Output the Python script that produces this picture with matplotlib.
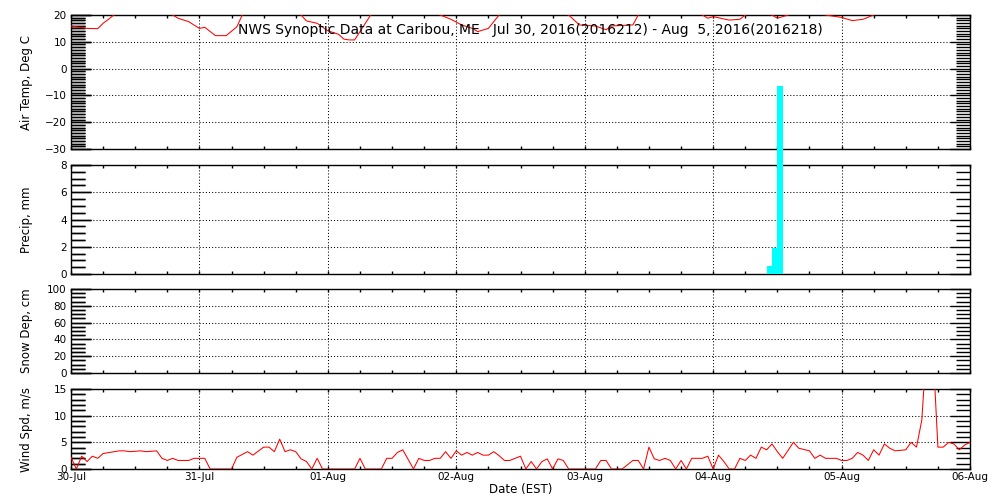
import numpy as np
import matplotlib
matplotlib.use('Agg')
import matplotlib.pyplot as plt
from matplotlib.ticker import MultipleLocator


# hours since 30-Jul 00:00 EST
temp_hr = [0, 3, 5, 6, 7, 8, 13, 19, 20, 22, 24, 25, 27, 29, 31, 32, 37, 43, 44, 46, 47, 48,
           50, 51, 52, 53, 54, 56, 61, 69, 71, 73, 75, 76, 78, 80, 85, 93, 95, 98, 100, 101,
           105, 106, 111, 118, 119, 120, 123, 125, 126, 128, 131, 132, 133, 134, 138, 141,
           144, 146, 148, 150, 156, 168]
temp_c = [15.9, 15.0, 14.9, 16.9, 18.4, 20.0, 24.0, 20.0, 18.8, 17.5, 15.0, 15.4, 12.3, 12.3,
          15.6, 20.0, 25.0, 20.0, 17.8, 16.9, 15.5, 14.1, 12.8, 11.0, 10.7, 10.7, 13.8, 20.0,
          25.0, 20.0, 18.4, 16.3, 15.0, 13.8, 15.0, 20.0, 25.0, 20.0, 16.3, 15.9, 14.5, 15.9,
          16.3, 20.0, 24.0, 20.0, 18.8, 19.4, 18.1, 18.4, 20.0, 21.0, 20.0, 18.8, 19.4, 20.0,
          23.0, 20.0, 19.1, 17.9, 18.4, 20.0, 25.0, 23.0]

precip_hr = [130, 131, 132]
precip_mm = [0.6, 1.9, 13.8]

snow_hr = []
snow_cm = []

wind_hr = [0, 1, 2, 3, 4, 5, 6, 9, 10, 11, 13, 14, 16, 17, 18, 19, 20, 22, 23, 25, 26, 30,
           31, 33, 34, 36, 37, 38, 39, 40, 41, 42, 43, 44, 45, 46, 47, 53, 54, 55, 58, 59,
           60, 61, 62, 64, 65, 66, 67, 68, 69, 70, 71, 72, 73, 74, 75, 76, 77, 78, 79, 80,
           81, 82, 84, 85, 86, 87, 88, 89, 90, 91, 92, 93, 98, 99, 100, 101, 103, 105, 106,
           107, 108, 109, 110, 111, 112, 113, 114, 115, 116, 118, 119, 120, 121, 122, 123,
           124, 125, 126, 127, 128, 129, 130, 131, 132, 133, 135, 136, 138, 139, 140, 141,
           143, 144, 145, 146, 147, 148, 149, 150, 151, 152, 153, 154, 156, 157, 158, 159,
           160, 161, 162, 163, 164, 165, 166, 167, 168]
wind_ms = [2.2, 0.0, 2.4, 1.4, 2.4, 2.0, 2.9, 3.4, 3.4, 3.25, 3.4, 3.25, 3.4, 2.0, 1.6, 2.0,
           1.6, 1.6, 2.0, 2.0, 0.0, 0.0, 2.2, 3.25, 2.6, 4.1, 4.1, 3.25, 5.6, 3.25, 3.6, 3.25,
           1.9, 1.4, 0.0, 2.0, 0.0, 0.0, 2.0, 0.0, 0.0, 2.0, 2.0, 3.1, 3.6, 0.0, 2.0, 1.6, 1.6,
           2.0, 2.0, 3.25, 2.0, 3.4, 2.6, 3.1, 2.6, 3.1, 2.6, 2.6, 3.25, 2.5, 1.6, 1.6, 2.4,
           0.0, 1.4, 0.0, 1.4, 1.9, 0.0, 1.9, 1.6, 0.0, 0.0, 1.6, 1.6, 0.0, 0.0, 1.6, 1.6, 0.0,
           4.1, 1.9, 1.6, 2.0, 1.6, 0.0, 1.6, 0.0, 2.0, 2.0, 2.4, 0.0, 2.6, 1.4, 0.0, 0.0, 2.0,
           1.6, 2.6, 2.0, 4.1, 3.6, 4.7, 3.25, 2.0, 5.0, 3.9, 3.4, 2.0, 2.6, 2.0, 2.0, 1.6, 1.6,
           2.0, 3.1, 2.6, 1.6, 3.6, 2.6, 4.7, 3.9, 3.4, 3.6, 5.0, 4.1, 9.2, 25.0, 24.0, 4.1,
           4.1, 5.0, 4.7, 3.6, 4.5, 5.0]

day_labels = ['30-Jul', '31-Jul', '01-Aug', '02-Aug', '03-Aug', '04-Aug', '05-Aug', '06-Aug']

title = 'NWS Synoptic Data at Caribou, ME   Jul 30, 2016(2016212) - Aug  5, 2016(2016218)'

DOT = (0, (1, 2))
LW = 0.75
TW = 1.0


def left_ticks(ax):
	# draw the left-hand IDL style tick comb from the axis locators
	trans = ax.get_yaxis_transform()
	lo, hi = ax.get_ylim()
	maj = [v for v in ax.yaxis.get_majorticklocs() if lo <= v <= hi]
	mnr = [v for v in ax.yaxis.get_minorticklocs() if lo <= v <= hi]
	ax.hlines(mnr, 0, 14 / 899, transform=trans, colors='k', lw=TW, clip_on=False, zorder=2.5)
	ax.hlines(maj, 0, 20 / 899, transform=trans, colors='k', lw=TW, clip_on=False, zorder=2.5)


def style_panel(ax, ylim, major, minor, ylabel, bottom_labels=False):
	ax.set_xlim(0, 168)
	ax.set_ylim(*ylim)
	ax.yaxis.set_major_locator(MultipleLocator(major))
	ax.yaxis.set_minor_locator(MultipleLocator(minor))
	ax.xaxis.set_major_locator(MultipleLocator(24))
	ax.xaxis.set_minor_locator(MultipleLocator(6))
	ax.tick_params(axis='y', which='both', direction='in', width=TW, color='k',
				   left=True, right=True, labelsize=7.5, pad=3)
	ax.tick_params(axis='y', which='major', length=14.4)
	ax.tick_params(axis='y', which='minor', length=10)
	ax.tick_params(axis='x', which='both', direction='in', length=2.5, width=TW, color='k',
				   top=True, bottom=True, labelbottom=bottom_labels, labelsize=7.5, pad=2)
	for s in ax.spines.values():
		s.set_linewidth(TW)
	# dotted grid (IDL ticklen=1 style)
	for y in np.arange(ylim[0] + major, ylim[1], major):
		ax.axhline(y, color='k', lw=LW, linestyle=DOT, zorder=1)
	for d in range(1, 7):
		ax.axvline(d * 24, color='k', lw=LW, linestyle=DOT, zorder=1)
	left_ticks(ax)
	ax.set_ylabel(ylabel, fontsize=8.5, va='center')
	ax.yaxis.set_label_coords(-0.049, 0.5)


fig = plt.figure(figsize=(10, 5), dpi=100)

ax1 = fig.add_axes([0.071, 0.702, 0.899, 0.268])
ax2 = fig.add_axes([0.071, 0.452, 0.899, 0.218])
ax3 = fig.add_axes([0.071, 0.254, 0.899, 0.168])
ax4 = fig.add_axes([0.071, 0.062, 0.899, 0.16])

style_panel(ax1, (-30, 20), 10, 1, 'Air Temp, Deg C')
style_panel(ax2, (0, 8), 2, 0.5, 'Precip, mm')
style_panel(ax3, (0, 100), 20, 5, 'Snow Dep, cm')
style_panel(ax4, (0, 15), 5, 1, 'Wind Spd, m/s', bottom_labels=True)
ax4.set_xticks(np.arange(0, 169, 24))
ax4.set_xticklabels(day_labels)
ax4.set_xlabel('Date (EST)', fontsize=8.5, va='center')
ax4.xaxis.set_label_coords(0.5, -0.2625)

ax1.plot(temp_hr, temp_c, color='red', lw=LW, zorder=3)
ax2.bar(precip_hr, precip_mm, width=1, align='edge', color='cyan', clip_on=False, zorder=5)
if snow_hr:
	ax3.plot(snow_hr, snow_cm, color='red', lw=LW)
ax4.plot(wind_hr, wind_ms, color='red', lw=LW, zorder=3)

ax1.text(0.530, 0.94, title, transform=fig.transFigure, ha='center', va='center', fontsize=10)

fig.savefig('out.png', dpi=100)
